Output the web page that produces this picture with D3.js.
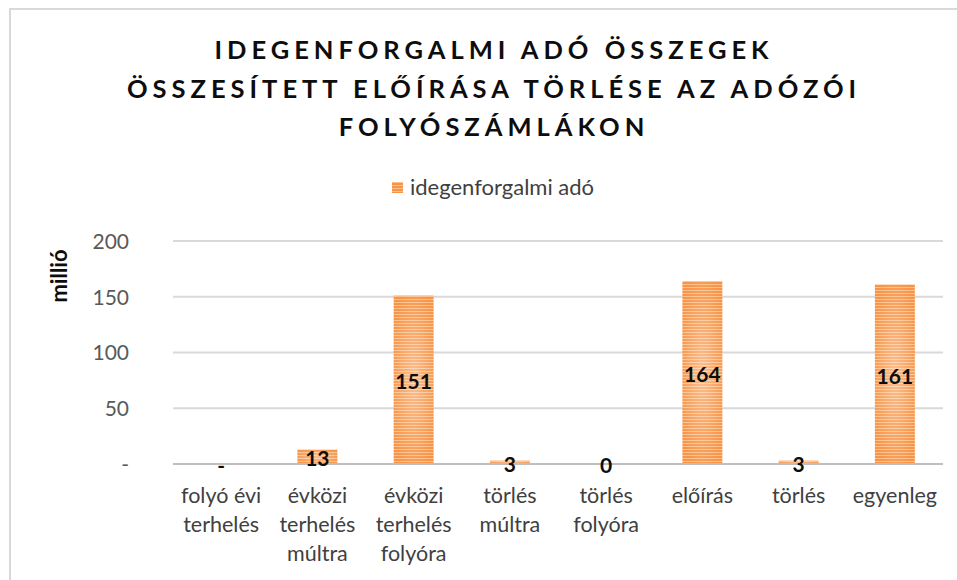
<!DOCTYPE html>
<html><head><meta charset="utf-8">
<script src="https://cdn.jsdelivr.net/npm/d3@7/dist/d3.min.js"></script>
<style>body{margin:0;background:#fff}svg{display:block}</style>
</head><body>
<script>
const categories = [["folyó évi","terhelés"],["évközi","terhelés","múltra"],["évközi","terhelés","folyóra"],["törlés","múltra"],["törlés","folyóra"],["előírás"],["törlés"],["egyenleg"]];
const values = [0, 13, 151, 3, 0.2, 164, 3, 161];
const valueLabels = ["-", "13", "151", "3", "0", "164", "3", "161"];
const yTicks = [0, 50, 100, 150, 200];
const yTickLabels = ["-", "50", "100", "150", "200"];
const titleLines = ["IDEGENFORGALMI ADÓ ÖSSZEGEK","ÖSSZESÍTETT ELŐÍRÁSA TÖRLÉSE AZ ADÓZÓI","FOLYÓSZÁMLÁKON"];
const seriesName = "idegenforgalmi adó";
const yTitle = "millió";

const W = 957, H = 580;
const font = "Lato, 'Open Sans', sans-serif";
const svg = d3.select("body").append("svg").attr("width", W).attr("height", H);
const defs = svg.append("defs");
const pat = defs.append("pattern").attr("id","stripes").attr("patternUnits","userSpaceOnUse").attr("width",8).attr("height",3);
pat.append("rect").attr("width",8).attr("height",3).attr("fill","#fbc08c");
pat.append("rect").attr("width",8).attr("height",2).attr("fill","#f79447");
const rg = defs.append("radialGradient").attr("id","glow").attr("cx","50%").attr("cy","50%").attr("r","60%");
rg.append("stop").attr("offset","0%").attr("stop-color","#fff").attr("stop-opacity",0.4);
rg.append("stop").attr("offset","100%").attr("stop-color","#fff").attr("stop-opacity",0);

// frame
svg.append("rect").attr("x",10).attr("y",9).attr("width",W).attr("height",H).attr("fill","none").attr("stroke","#d9d9d9").attr("stroke-width",2);

const m = {left:173, right:943, top:241, bottom:464};
const x = d3.scaleBand().domain(d3.range(categories.length)).range([m.left, m.right]).paddingInner(0.585).paddingOuter(0.2925);
const y = d3.scaleLinear().domain([0,200]).range([m.bottom, m.top]);

// title
const title = svg.append("text").attr("text-anchor","middle").attr("font-family",font).attr("font-weight","bold")
  .attr("font-size",25.5).attr("letter-spacing",5).attr("fill","#0d0d0d");
titleLines.forEach((t,i)=> title.append("tspan").attr("x",494).attr("y",59+i*38.5).text(t));

// legend
svg.append("rect").attr("x",392).attr("y",182).attr("width",11).attr("height",11).attr("fill","url(#stripes)");
svg.append("text").attr("x",410).attr("y",195).attr("font-family",font).attr("font-size",22).attr("fill","#404040").text(seriesName);

// gridlines
svg.append("g").selectAll("line").data(yTicks.filter(d=>d>0)).join("line")
  .attr("x1",m.left).attr("x2",m.right).attr("y1",d=>y(d)).attr("y2",d=>y(d))
  .attr("stroke","#d9d9d9").attr("stroke-width",2);

// y axis
const yAxis = d3.axisLeft(y).tickValues(yTicks).tickSize(0).tickPadding(0).tickFormat((d,i)=>yTickLabels[i]);
const yg = svg.append("g").attr("transform",`translate(129,0)`).call(yAxis);
yg.select(".domain").remove();
yg.selectAll("text").attr("font-family",font).attr("font-size",21).attr("fill","#595959").attr("dy","0.35em");

svg.append("text").attr("transform","translate(67,276) rotate(-90)").attr("text-anchor","middle")
  .attr("font-family",font).attr("font-weight","bold").attr("font-size",22).attr("fill","#0d0d0d").text(yTitle);

// bars
const bars = svg.append("g");
bars.selectAll("rect.b").data(values).join("rect").attr("class","b")
  .attr("x",(d,i)=>x(i)).attr("width",x.bandwidth())
  .attr("y",d=>y(d)).attr("height",d=>y(0)-y(d)).attr("fill","url(#stripes)");
bars.selectAll("rect.g").data(values).join("rect").attr("class","g")
  .attr("x",(d,i)=>x(i)).attr("width",x.bandwidth())
  .attr("y",d=>y(d)).attr("height",d=>y(0)-y(d)).attr("fill","url(#glow)");

// x axis line
svg.append("line").attr("x1",m.left).attr("x2",m.right).attr("y1",y(0)).attr("y2",y(0)).attr("stroke","#bfbfbf").attr("stroke-width",2);

// x labels
const xl = svg.append("g");
categories.forEach((c,i)=>{
  const t = xl.append("text").attr("text-anchor","middle").attr("font-family",font).attr("font-size",21.5).attr("fill","#404040");
  c.forEach((s,j)=> t.append("tspan").attr("x",x(i)+x.bandwidth()/2).attr("y",503+j*29).text(s));
});

// value labels
svg.append("g").selectAll("text").data(values).join("text")
  .attr("x",(d,i)=>x(i)+x.bandwidth()/2).attr("y",d=>(y(d)+y(0))/2 + 2)
  .attr("dy","0.35em").attr("text-anchor","middle").attr("font-family",font).attr("font-weight","bold")
  .attr("font-size",21).attr("fill","#0d0d0d").text((d,i)=>valueLabels[i]);
</script>
</body></html>
